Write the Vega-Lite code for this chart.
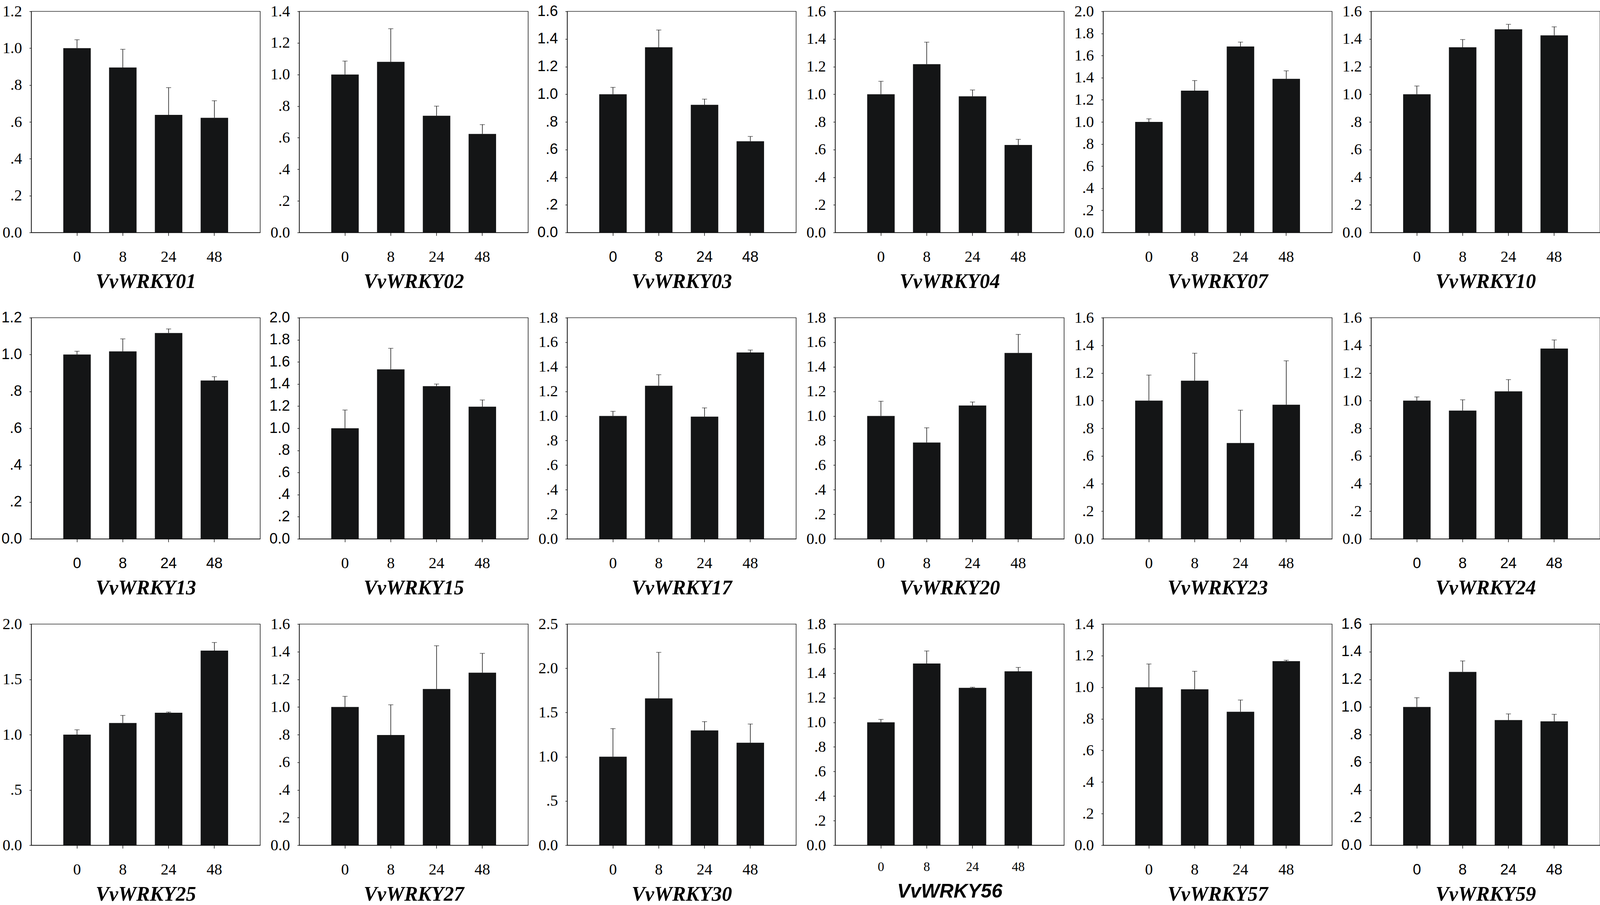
{
  "$schema": "https://vega.github.io/schema/vega-lite/v6.json",
  "background": "white",
  "padding": {"left": 2, "top": 8, "right": 0, "bottom": 0},
  "bounds": "flush",
  "columns": 6,
  "spacing": {"row": 218, "column": 100},
  "resolve": {"scale": {"x": "independent", "y": "independent"}},
  "data": {
    "values": [
      {"gene": "VvWRKY01", "time": "0", "mean": 1.0, "upper": 1.046},
      {"gene": "VvWRKY01", "time": "8", "mean": 0.895, "upper": 0.994},
      {"gene": "VvWRKY01", "time": "24", "mean": 0.638, "upper": 0.786},
      {"gene": "VvWRKY01", "time": "48", "mean": 0.622, "upper": 0.715},
      {"gene": "VvWRKY02", "time": "0", "mean": 1.0, "upper": 1.085},
      {"gene": "VvWRKY02", "time": "8", "mean": 1.08, "upper": 1.29},
      {"gene": "VvWRKY02", "time": "24", "mean": 0.739, "upper": 0.8},
      {"gene": "VvWRKY02", "time": "48", "mean": 0.624, "upper": 0.683},
      {"gene": "VvWRKY03", "time": "0", "mean": 1.0, "upper": 1.05},
      {"gene": "VvWRKY03", "time": "8", "mean": 1.34, "upper": 1.465},
      {"gene": "VvWRKY03", "time": "24", "mean": 0.924, "upper": 0.965},
      {"gene": "VvWRKY03", "time": "48", "mean": 0.66, "upper": 0.695},
      {"gene": "VvWRKY04", "time": "0", "mean": 1.0, "upper": 1.094},
      {"gene": "VvWRKY04", "time": "8", "mean": 1.218, "upper": 1.377},
      {"gene": "VvWRKY04", "time": "24", "mean": 0.985, "upper": 1.031},
      {"gene": "VvWRKY04", "time": "48", "mean": 0.633, "upper": 0.674},
      {"gene": "VvWRKY07", "time": "0", "mean": 1.0, "upper": 1.028},
      {"gene": "VvWRKY07", "time": "8", "mean": 1.283, "upper": 1.374},
      {"gene": "VvWRKY07", "time": "24", "mean": 1.682, "upper": 1.722},
      {"gene": "VvWRKY07", "time": "48", "mean": 1.39, "upper": 1.462},
      {"gene": "VvWRKY10", "time": "0", "mean": 1.0, "upper": 1.06},
      {"gene": "VvWRKY10", "time": "8", "mean": 1.34, "upper": 1.396},
      {"gene": "VvWRKY10", "time": "24", "mean": 1.47, "upper": 1.506},
      {"gene": "VvWRKY10", "time": "48", "mean": 1.426, "upper": 1.488},
      {"gene": "VvWRKY13", "time": "0", "mean": 1.0, "upper": 1.018},
      {"gene": "VvWRKY13", "time": "8", "mean": 1.017, "upper": 1.085},
      {"gene": "VvWRKY13", "time": "24", "mean": 1.117, "upper": 1.139},
      {"gene": "VvWRKY13", "time": "48", "mean": 0.859, "upper": 0.88},
      {"gene": "VvWRKY15", "time": "0", "mean": 1.0, "upper": 1.165},
      {"gene": "VvWRKY15", "time": "8", "mean": 1.533, "upper": 1.723},
      {"gene": "VvWRKY15", "time": "24", "mean": 1.381, "upper": 1.4},
      {"gene": "VvWRKY15", "time": "48", "mean": 1.195, "upper": 1.256},
      {"gene": "VvWRKY17", "time": "0", "mean": 1.0, "upper": 1.038},
      {"gene": "VvWRKY17", "time": "8", "mean": 1.246, "upper": 1.336},
      {"gene": "VvWRKY17", "time": "24", "mean": 0.995, "upper": 1.066},
      {"gene": "VvWRKY17", "time": "48", "mean": 1.517, "upper": 1.537},
      {"gene": "VvWRKY20", "time": "0", "mean": 1.0, "upper": 1.12},
      {"gene": "VvWRKY20", "time": "8", "mean": 0.784, "upper": 0.904},
      {"gene": "VvWRKY20", "time": "24", "mean": 1.085, "upper": 1.114},
      {"gene": "VvWRKY20", "time": "48", "mean": 1.513, "upper": 1.664},
      {"gene": "VvWRKY23", "time": "0", "mean": 1.0, "upper": 1.185},
      {"gene": "VvWRKY23", "time": "8", "mean": 1.144, "upper": 1.343},
      {"gene": "VvWRKY23", "time": "24", "mean": 0.693, "upper": 0.931},
      {"gene": "VvWRKY23", "time": "48", "mean": 0.97, "upper": 1.288},
      {"gene": "VvWRKY24", "time": "0", "mean": 1.0, "upper": 1.027},
      {"gene": "VvWRKY24", "time": "8", "mean": 0.928, "upper": 1.006},
      {"gene": "VvWRKY24", "time": "24", "mean": 1.067, "upper": 1.152},
      {"gene": "VvWRKY24", "time": "48", "mean": 1.377, "upper": 1.439},
      {"gene": "VvWRKY25", "time": "0", "mean": 1.0, "upper": 1.044},
      {"gene": "VvWRKY25", "time": "8", "mean": 1.105, "upper": 1.174},
      {"gene": "VvWRKY25", "time": "24", "mean": 1.198, "upper": 1.204},
      {"gene": "VvWRKY25", "time": "48", "mean": 1.76, "upper": 1.833},
      {"gene": "VvWRKY27", "time": "0", "mean": 1.0, "upper": 1.077},
      {"gene": "VvWRKY27", "time": "8", "mean": 0.797, "upper": 1.016},
      {"gene": "VvWRKY27", "time": "24", "mean": 1.13, "upper": 1.443},
      {"gene": "VvWRKY27", "time": "48", "mean": 1.248, "upper": 1.388},
      {"gene": "VvWRKY30", "time": "0", "mean": 1.0, "upper": 1.318},
      {"gene": "VvWRKY30", "time": "8", "mean": 1.66, "upper": 2.18},
      {"gene": "VvWRKY30", "time": "24", "mean": 1.298, "upper": 1.397},
      {"gene": "VvWRKY30", "time": "48", "mean": 1.158, "upper": 1.37},
      {"gene": "VvWRKY56", "time": "0", "mean": 1.0, "upper": 1.024},
      {"gene": "VvWRKY56", "time": "8", "mean": 1.479, "upper": 1.581},
      {"gene": "VvWRKY56", "time": "24", "mean": 1.281, "upper": 1.286},
      {"gene": "VvWRKY56", "time": "48", "mean": 1.415, "upper": 1.447},
      {"gene": "VvWRKY57", "time": "0", "mean": 1.0, "upper": 1.147},
      {"gene": "VvWRKY57", "time": "8", "mean": 0.987, "upper": 1.101},
      {"gene": "VvWRKY57", "time": "24", "mean": 0.845, "upper": 0.919},
      {"gene": "VvWRKY57", "time": "48", "mean": 1.165, "upper": 1.171},
      {"gene": "VvWRKY59", "time": "0", "mean": 1.0, "upper": 1.067},
      {"gene": "VvWRKY59", "time": "8", "mean": 1.254, "upper": 1.333},
      {"gene": "VvWRKY59", "time": "24", "mean": 0.905, "upper": 0.95},
      {"gene": "VvWRKY59", "time": "48", "mean": 0.896, "upper": 0.947}
    ]
  },
  "concat": [
    {
      "transform": [{"filter": "datum.gene == 'VvWRKY01'"}],
      "encoding": {
        "x": {"field": "time", "type": "ordinal", "sort": ["0", "8", "24", "48"], "axis": {"title": "VvWRKY01"}},
        "y": {"field": "mean", "type": "quantitative", "scale": {"domain": [0, 1.2]}, "axis": {"title": null, "values": [0, 0.2, 0.4, 0.6, 0.8, 1, 1.2], "labelExpr": "datum.value == 0 ? '0.0' : (datum.value < 1 ? replace(format(datum.value, '.1f'), '0.', '.') : format(datum.value, '.1f'))"}}
      },
      "layer": [
        {"mark": {"type": "bar", "color": "#141516"}},
        {"mark": {"type": "rule", "color": "black", "strokeWidth": 1.4}, "encoding": {"y2": {"field": "upper"}}},
        {"mark": {"type": "tick", "color": "black", "thickness": 1.4, "size": 13}, "encoding": {"y": {"field": "upper", "type": "quantitative", "title": null, "scale": {"domain": [0, 1.2]}}}}
      ]
    },
    {
      "transform": [{"filter": "datum.gene == 'VvWRKY02'"}],
      "encoding": {
        "x": {"field": "time", "type": "ordinal", "sort": ["0", "8", "24", "48"], "axis": {"title": "VvWRKY02"}},
        "y": {"field": "mean", "type": "quantitative", "scale": {"domain": [0, 1.4]}, "axis": {"title": null, "values": [0, 0.2, 0.4, 0.6, 0.8, 1, 1.2, 1.4], "labelExpr": "datum.value == 0 ? '0.0' : (datum.value < 1 ? replace(format(datum.value, '.1f'), '0.', '.') : format(datum.value, '.1f'))"}}
      },
      "layer": [
        {"mark": {"type": "bar", "color": "#141516"}},
        {"mark": {"type": "rule", "color": "black", "strokeWidth": 1.4}, "encoding": {"y2": {"field": "upper"}}},
        {"mark": {"type": "tick", "color": "black", "thickness": 1.4, "size": 13}, "encoding": {"y": {"field": "upper", "type": "quantitative", "title": null, "scale": {"domain": [0, 1.4]}}}}
      ]
    },
    {
      "transform": [{"filter": "datum.gene == 'VvWRKY03'"}],
      "encoding": {
        "x": {"field": "time", "type": "ordinal", "sort": ["0", "8", "24", "48"], "axis": {"title": "VvWRKY03", "labelFont": "Liberation Sans", "labelFontSize": 38}},
        "y": {"field": "mean", "type": "quantitative", "scale": {"domain": [0, 1.6]}, "axis": {"title": null, "labelFont": "Liberation Sans", "labelFontSize": 38, "values": [0, 0.2, 0.4, 0.6, 0.8, 1, 1.2, 1.4, 1.6], "labelExpr": "datum.value == 0 ? '0.0' : (datum.value < 1 ? replace(format(datum.value, '.1f'), '0.', '.') : format(datum.value, '.1f'))"}}
      },
      "layer": [
        {"mark": {"type": "bar", "color": "#141516"}},
        {"mark": {"type": "rule", "color": "black", "strokeWidth": 1.4}, "encoding": {"y2": {"field": "upper"}}},
        {"mark": {"type": "tick", "color": "black", "thickness": 1.4, "size": 13}, "encoding": {"y": {"field": "upper", "type": "quantitative", "title": null, "scale": {"domain": [0, 1.6]}}}}
      ]
    },
    {
      "transform": [{"filter": "datum.gene == 'VvWRKY04'"}],
      "encoding": {
        "x": {"field": "time", "type": "ordinal", "sort": ["0", "8", "24", "48"], "axis": {"title": "VvWRKY04"}},
        "y": {"field": "mean", "type": "quantitative", "scale": {"domain": [0, 1.6]}, "axis": {"title": null, "values": [0, 0.2, 0.4, 0.6, 0.8, 1, 1.2, 1.4, 1.6], "labelExpr": "datum.value == 0 ? '0.0' : (datum.value < 1 ? replace(format(datum.value, '.1f'), '0.', '.') : format(datum.value, '.1f'))"}}
      },
      "layer": [
        {"mark": {"type": "bar", "color": "#141516"}},
        {"mark": {"type": "rule", "color": "black", "strokeWidth": 1.4}, "encoding": {"y2": {"field": "upper"}}},
        {"mark": {"type": "tick", "color": "black", "thickness": 1.4, "size": 13}, "encoding": {"y": {"field": "upper", "type": "quantitative", "title": null, "scale": {"domain": [0, 1.6]}}}}
      ]
    },
    {
      "transform": [{"filter": "datum.gene == 'VvWRKY07'"}],
      "encoding": {
        "x": {"field": "time", "type": "ordinal", "sort": ["0", "8", "24", "48"], "axis": {"title": "VvWRKY07"}},
        "y": {"field": "mean", "type": "quantitative", "scale": {"domain": [0, 2.0]}, "axis": {"title": null, "values": [0, 0.2, 0.4, 0.6, 0.8, 1, 1.2, 1.4, 1.6, 1.8, 2.0], "labelExpr": "datum.value == 0 ? '0.0' : (datum.value < 1 ? replace(format(datum.value, '.1f'), '0.', '.') : format(datum.value, '.1f'))"}}
      },
      "layer": [
        {"mark": {"type": "bar", "color": "#141516"}},
        {"mark": {"type": "rule", "color": "black", "strokeWidth": 1.4}, "encoding": {"y2": {"field": "upper"}}},
        {"mark": {"type": "tick", "color": "black", "thickness": 1.4, "size": 13}, "encoding": {"y": {"field": "upper", "type": "quantitative", "title": null, "scale": {"domain": [0, 2.0]}}}}
      ]
    },
    {
      "transform": [{"filter": "datum.gene == 'VvWRKY10'"}],
      "encoding": {
        "x": {"field": "time", "type": "ordinal", "sort": ["0", "8", "24", "48"], "axis": {"title": "VvWRKY10"}},
        "y": {"field": "mean", "type": "quantitative", "scale": {"domain": [0, 1.6]}, "axis": {"title": null, "values": [0, 0.2, 0.4, 0.6, 0.8, 1, 1.2, 1.4, 1.6], "labelExpr": "datum.value == 0 ? '0.0' : (datum.value < 1 ? replace(format(datum.value, '.1f'), '0.', '.') : format(datum.value, '.1f'))"}}
      },
      "layer": [
        {"mark": {"type": "bar", "color": "#141516"}},
        {"mark": {"type": "rule", "color": "black", "strokeWidth": 1.4}, "encoding": {"y2": {"field": "upper"}}},
        {"mark": {"type": "tick", "color": "black", "thickness": 1.4, "size": 13}, "encoding": {"y": {"field": "upper", "type": "quantitative", "title": null, "scale": {"domain": [0, 1.6]}}}}
      ]
    },
    {
      "transform": [{"filter": "datum.gene == 'VvWRKY13'"}],
      "encoding": {
        "x": {"field": "time", "type": "ordinal", "sort": ["0", "8", "24", "48"], "axis": {"title": "VvWRKY13", "labelFont": "Liberation Sans", "labelFontSize": 38}},
        "y": {"field": "mean", "type": "quantitative", "scale": {"domain": [0, 1.2]}, "axis": {"title": null, "labelFont": "Liberation Sans", "labelFontSize": 38, "values": [0, 0.2, 0.4, 0.6, 0.8, 1, 1.2], "labelExpr": "datum.value == 0 ? '0.0' : (datum.value < 1 ? replace(format(datum.value, '.1f'), '0.', '.') : format(datum.value, '.1f'))"}}
      },
      "layer": [
        {"mark": {"type": "bar", "color": "#141516"}},
        {"mark": {"type": "rule", "color": "black", "strokeWidth": 1.4}, "encoding": {"y2": {"field": "upper"}}},
        {"mark": {"type": "tick", "color": "black", "thickness": 1.4, "size": 13}, "encoding": {"y": {"field": "upper", "type": "quantitative", "title": null, "scale": {"domain": [0, 1.2]}}}}
      ]
    },
    {
      "transform": [{"filter": "datum.gene == 'VvWRKY15'"}],
      "encoding": {
        "x": {"field": "time", "type": "ordinal", "sort": ["0", "8", "24", "48"], "axis": {"title": "VvWRKY15"}},
        "y": {"field": "mean", "type": "quantitative", "scale": {"domain": [0, 2.0]}, "axis": {"title": null, "labelFont": "Liberation Sans", "labelFontSize": 38, "values": [0, 0.2, 0.4, 0.6, 0.8, 1, 1.2, 1.4, 1.6, 1.8, 2.0], "labelExpr": "datum.value == 0 ? '0.0' : (datum.value < 1 ? replace(format(datum.value, '.1f'), '0.', '.') : format(datum.value, '.1f'))"}}
      },
      "layer": [
        {"mark": {"type": "bar", "color": "#141516"}},
        {"mark": {"type": "rule", "color": "black", "strokeWidth": 1.4}, "encoding": {"y2": {"field": "upper"}}},
        {"mark": {"type": "tick", "color": "black", "thickness": 1.4, "size": 13}, "encoding": {"y": {"field": "upper", "type": "quantitative", "title": null, "scale": {"domain": [0, 2.0]}}}}
      ]
    },
    {
      "transform": [{"filter": "datum.gene == 'VvWRKY17'"}],
      "encoding": {
        "x": {"field": "time", "type": "ordinal", "sort": ["0", "8", "24", "48"], "axis": {"title": "VvWRKY17"}},
        "y": {"field": "mean", "type": "quantitative", "scale": {"domain": [0, 1.8]}, "axis": {"title": null, "values": [0, 0.2, 0.4, 0.6, 0.8, 1, 1.2, 1.4, 1.6, 1.8], "labelExpr": "datum.value == 0 ? '0.0' : (datum.value < 1 ? replace(format(datum.value, '.1f'), '0.', '.') : format(datum.value, '.1f'))"}}
      },
      "layer": [
        {"mark": {"type": "bar", "color": "#141516"}},
        {"mark": {"type": "rule", "color": "black", "strokeWidth": 1.4}, "encoding": {"y2": {"field": "upper"}}},
        {"mark": {"type": "tick", "color": "black", "thickness": 1.4, "size": 13}, "encoding": {"y": {"field": "upper", "type": "quantitative", "title": null, "scale": {"domain": [0, 1.8]}}}}
      ]
    },
    {
      "transform": [{"filter": "datum.gene == 'VvWRKY20'"}],
      "encoding": {
        "x": {"field": "time", "type": "ordinal", "sort": ["0", "8", "24", "48"], "axis": {"title": "VvWRKY20"}},
        "y": {"field": "mean", "type": "quantitative", "scale": {"domain": [0, 1.8]}, "axis": {"title": null, "values": [0, 0.2, 0.4, 0.6, 0.8, 1, 1.2, 1.4, 1.6, 1.8], "labelExpr": "datum.value == 0 ? '0.0' : (datum.value < 1 ? replace(format(datum.value, '.1f'), '0.', '.') : format(datum.value, '.1f'))"}}
      },
      "layer": [
        {"mark": {"type": "bar", "color": "#141516"}},
        {"mark": {"type": "rule", "color": "black", "strokeWidth": 1.4}, "encoding": {"y2": {"field": "upper"}}},
        {"mark": {"type": "tick", "color": "black", "thickness": 1.4, "size": 13}, "encoding": {"y": {"field": "upper", "type": "quantitative", "title": null, "scale": {"domain": [0, 1.8]}}}}
      ]
    },
    {
      "transform": [{"filter": "datum.gene == 'VvWRKY23'"}],
      "encoding": {
        "x": {"field": "time", "type": "ordinal", "sort": ["0", "8", "24", "48"], "axis": {"title": "VvWRKY23"}},
        "y": {"field": "mean", "type": "quantitative", "scale": {"domain": [0, 1.6]}, "axis": {"title": null, "values": [0, 0.2, 0.4, 0.6, 0.8, 1, 1.2, 1.4, 1.6], "labelExpr": "datum.value == 0 ? '0.0' : (datum.value < 1 ? replace(format(datum.value, '.1f'), '0.', '.') : format(datum.value, '.1f'))"}}
      },
      "layer": [
        {"mark": {"type": "bar", "color": "#141516"}},
        {"mark": {"type": "rule", "color": "black", "strokeWidth": 1.4}, "encoding": {"y2": {"field": "upper"}}},
        {"mark": {"type": "tick", "color": "black", "thickness": 1.4, "size": 13}, "encoding": {"y": {"field": "upper", "type": "quantitative", "title": null, "scale": {"domain": [0, 1.6]}}}}
      ]
    },
    {
      "transform": [{"filter": "datum.gene == 'VvWRKY24'"}],
      "encoding": {
        "x": {"field": "time", "type": "ordinal", "sort": ["0", "8", "24", "48"], "axis": {"title": "VvWRKY24", "labelFont": "Liberation Sans", "labelFontSize": 38}},
        "y": {"field": "mean", "type": "quantitative", "scale": {"domain": [0, 1.6]}, "axis": {"title": null, "values": [0, 0.2, 0.4, 0.6, 0.8, 1, 1.2, 1.4, 1.6], "labelExpr": "datum.value == 0 ? '0.0' : (datum.value < 1 ? replace(format(datum.value, '.1f'), '0.', '.') : format(datum.value, '.1f'))"}}
      },
      "layer": [
        {"mark": {"type": "bar", "color": "#141516"}},
        {"mark": {"type": "rule", "color": "black", "strokeWidth": 1.4}, "encoding": {"y2": {"field": "upper"}}},
        {"mark": {"type": "tick", "color": "black", "thickness": 1.4, "size": 13}, "encoding": {"y": {"field": "upper", "type": "quantitative", "title": null, "scale": {"domain": [0, 1.6]}}}}
      ]
    },
    {
      "transform": [{"filter": "datum.gene == 'VvWRKY25'"}],
      "encoding": {
        "x": {"field": "time", "type": "ordinal", "sort": ["0", "8", "24", "48"], "axis": {"title": "VvWRKY25"}},
        "y": {"field": "mean", "type": "quantitative", "scale": {"domain": [0, 2.0]}, "axis": {"title": null, "values": [0, 0.5, 1, 1.5, 2.0], "labelExpr": "datum.value == 0 ? '0.0' : (datum.value < 1 ? replace(format(datum.value, '.1f'), '0.', '.') : format(datum.value, '.1f'))"}}
      },
      "layer": [
        {"mark": {"type": "bar", "color": "#141516"}},
        {"mark": {"type": "rule", "color": "black", "strokeWidth": 1.4}, "encoding": {"y2": {"field": "upper"}}},
        {"mark": {"type": "tick", "color": "black", "thickness": 1.4, "size": 13}, "encoding": {"y": {"field": "upper", "type": "quantitative", "title": null, "scale": {"domain": [0, 2.0]}}}}
      ]
    },
    {
      "transform": [{"filter": "datum.gene == 'VvWRKY27'"}],
      "encoding": {
        "x": {"field": "time", "type": "ordinal", "sort": ["0", "8", "24", "48"], "axis": {"title": "VvWRKY27"}},
        "y": {"field": "mean", "type": "quantitative", "scale": {"domain": [0, 1.6]}, "axis": {"title": null, "values": [0, 0.2, 0.4, 0.6, 0.8, 1, 1.2, 1.4, 1.6], "labelExpr": "datum.value == 0 ? '0.0' : (datum.value < 1 ? replace(format(datum.value, '.1f'), '0.', '.') : format(datum.value, '.1f'))"}}
      },
      "layer": [
        {"mark": {"type": "bar", "color": "#141516"}},
        {"mark": {"type": "rule", "color": "black", "strokeWidth": 1.4}, "encoding": {"y2": {"field": "upper"}}},
        {"mark": {"type": "tick", "color": "black", "thickness": 1.4, "size": 13}, "encoding": {"y": {"field": "upper", "type": "quantitative", "title": null, "scale": {"domain": [0, 1.6]}}}}
      ]
    },
    {
      "transform": [{"filter": "datum.gene == 'VvWRKY30'"}],
      "encoding": {
        "x": {"field": "time", "type": "ordinal", "sort": ["0", "8", "24", "48"], "axis": {"title": "VvWRKY30"}},
        "y": {"field": "mean", "type": "quantitative", "scale": {"domain": [0, 2.5]}, "axis": {"title": null, "values": [0, 0.5, 1, 1.5, 2.0, 2.5], "labelExpr": "datum.value == 0 ? '0.0' : (datum.value < 1 ? replace(format(datum.value, '.1f'), '0.', '.') : format(datum.value, '.1f'))"}}
      },
      "layer": [
        {"mark": {"type": "bar", "color": "#141516"}},
        {"mark": {"type": "rule", "color": "black", "strokeWidth": 1.4}, "encoding": {"y2": {"field": "upper"}}},
        {"mark": {"type": "tick", "color": "black", "thickness": 1.4, "size": 13}, "encoding": {"y": {"field": "upper", "type": "quantitative", "title": null, "scale": {"domain": [0, 2.5]}}}}
      ]
    },
    {
      "transform": [{"filter": "datum.gene == 'VvWRKY56'"}],
      "encoding": {
        "x": {"field": "time", "type": "ordinal", "sort": ["0", "8", "24", "48"], "axis": {"title": "VvWRKY56", "labelFontSize": 33, "labelPadding": 57, "titleFont": "Liberation Sans", "titleFontSize": 50, "titleY": 133}},
        "y": {"field": "mean", "type": "quantitative", "scale": {"domain": [0, 1.8]}, "axis": {"title": null, "values": [0, 0.2, 0.4, 0.6, 0.8, 1, 1.2, 1.4, 1.6, 1.8], "labelExpr": "datum.value == 0 ? '0.0' : (datum.value < 1 ? replace(format(datum.value, '.1f'), '0.', '.') : format(datum.value, '.1f'))"}}
      },
      "layer": [
        {"mark": {"type": "bar", "color": "#141516"}},
        {"mark": {"type": "rule", "color": "black", "strokeWidth": 1.4}, "encoding": {"y2": {"field": "upper"}}},
        {"mark": {"type": "tick", "color": "black", "thickness": 1.4, "size": 13}, "encoding": {"y": {"field": "upper", "type": "quantitative", "title": null, "scale": {"domain": [0, 1.8]}}}}
      ]
    },
    {
      "transform": [{"filter": "datum.gene == 'VvWRKY57'"}],
      "encoding": {
        "x": {"field": "time", "type": "ordinal", "sort": ["0", "8", "24", "48"], "axis": {"title": "VvWRKY57"}},
        "y": {"field": "mean", "type": "quantitative", "scale": {"domain": [0, 1.4]}, "axis": {"title": null, "values": [0, 0.2, 0.4, 0.6, 0.8, 1, 1.2, 1.4], "labelExpr": "datum.value == 0 ? '0.0' : (datum.value < 1 ? replace(format(datum.value, '.1f'), '0.', '.') : format(datum.value, '.1f'))"}}
      },
      "layer": [
        {"mark": {"type": "bar", "color": "#141516"}},
        {"mark": {"type": "rule", "color": "black", "strokeWidth": 1.4}, "encoding": {"y2": {"field": "upper"}}},
        {"mark": {"type": "tick", "color": "black", "thickness": 1.4, "size": 13}, "encoding": {"y": {"field": "upper", "type": "quantitative", "title": null, "scale": {"domain": [0, 1.4]}}}}
      ]
    },
    {
      "transform": [{"filter": "datum.gene == 'VvWRKY59'"}],
      "encoding": {
        "x": {"field": "time", "type": "ordinal", "sort": ["0", "8", "24", "48"], "axis": {"title": "VvWRKY59", "labelFont": "Liberation Sans", "labelFontSize": 38}},
        "y": {"field": "mean", "type": "quantitative", "scale": {"domain": [0, 1.6]}, "axis": {"title": null, "labelFont": "Liberation Sans", "labelFontSize": 38, "values": [0, 0.2, 0.4, 0.6, 0.8, 1, 1.2, 1.4, 1.6], "labelExpr": "datum.value == 0 ? '0.0' : (datum.value < 1 ? replace(format(datum.value, '.1f'), '0.', '.') : format(datum.value, '.1f'))"}}
      },
      "layer": [
        {"mark": {"type": "bar", "color": "#141516"}},
        {"mark": {"type": "rule", "color": "black", "strokeWidth": 1.4}, "encoding": {"y2": {"field": "upper"}}},
        {"mark": {"type": "tick", "color": "black", "thickness": 1.4, "size": 13}, "encoding": {"y": {"field": "upper", "type": "quantitative", "title": null, "scale": {"domain": [0, 1.6]}}}}
      ]
    }
  ],
  "config": {
    "view": {"continuousWidth": 586, "continuousHeight": 566, "discreteWidth": 586, "discreteHeight": 566, "stroke": "black", "strokeWidth": 1.4},
    "scale": {"bandPaddingInner": 0.4, "bandPaddingOuter": 0.7},
    "axis": {
      "grid": false,
      "domainColor": "black",
      "domainWidth": 1.4,
      "tickColor": "black",
      "tickWidth": 1.4,
      "labelColor": "black",
      "titleColor": "black",
      "labelFont": "Liberation Serif",
      "labelFontSize": 40
    },
    "axisX": {
      "tickSize": 8,
      "labelAngle": 0,
      "labelBaseline": "alphabetic",
      "labelPadding": 66,
      "titleFont": "Liberation Serif",
      "titleFontSize": 52,
      "titleFontStyle": "italic",
      "titleFontWeight": "bold",
      "titleBaseline": "alphabetic",
      "titleY": 141
    },
    "axisY": {"tickSize": 5, "labelPadding": 19}
  }
}
